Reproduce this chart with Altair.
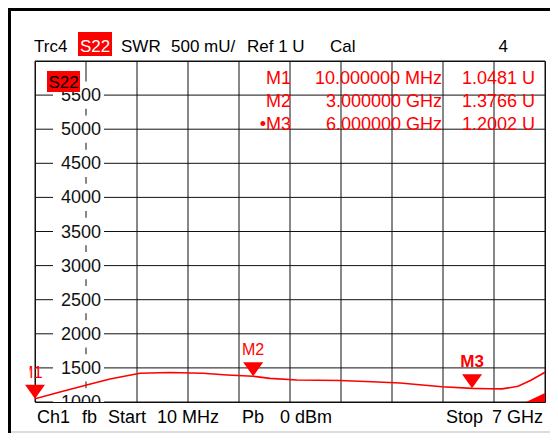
import altair as alt
import pandas as pd

# ---------------- data ----------------
freq_mhz = [10, 353, 718, 1038, 1449, 1860, 2313, 2642, 3000, 3231, 3600,
            4190, 4629, 5013, 5588, 6000, 6232, 6411, 6630, 6808, 7000]
swr_mu = [1048, 1147, 1249, 1337, 1421, 1432, 1421, 1396, 1377, 1347, 1322,
          1315, 1298, 1279, 1224, 1200, 1195, 1192, 1230, 1318, 1436]

marker_names = ["M1", "M2", "M3"]
marker_freq_mhz = [10, 3000, 6000]
marker_swr_mu = [1048.1, 1376.6, 1200.2]

readout_names = ["M1", "M2", "\u2022M3"]
readout_freqs = ["10.000000 MHz", "3.000000 GHz", "6.000000 GHz"]
readout_values = ["1.0481 U", "1.3766 U", "1.2002 U"]

y_tick_values = [1000, 1500, 2000, 2500, 3000, 3500, 4000, 4500, 5000, 5500]
y_tick_labels = ["1000", "1500", "2000", "2500", "3000", "3500", "4000", "4500", "5000", "5500"]
y_grid = [1000, 1500, 2000, 2500, 3000, 3500, 4000, 4500, 5000, 5500, 6000]
x_grid_mhz = [10, 709, 1408, 2107, 2806, 3505, 4204, 4903, 5602, 6301, 7000]

header_texts = ["Trc4", "S22", "SWR", "500 mU/", "Ref 1 U", "Cal", "4"]
footer_texts = ["Ch1", "fb", "Start", "10 MHz", "Pb", "0 dBm", "Stop", "7 GHz"]
badge_text = "S22"

# ---------------- styling / layout ----------------
FONT = "Liberation Sans"
RED = "#ff0000"
GRID = "#111111"
W, H = 510, 341

xs = alt.Scale(domain=[10, 7000], nice=False, zero=False)
ys = alt.Scale(domain=[1000, 6000], nice=False, zero=False)

ONE = alt.Data(values=[{}])


def label(text, x, y, align="left", color="black", weight="normal", size=17):
    return alt.Chart(ONE).mark_text(
        text=text, align=align, baseline="alphabetic", font=FONT,
        fontSize=size, fontWeight=weight, color=color
    ).encode(x=alt.value(x), y=alt.value(y))


def box(x, x2, y, y2, color):
    return alt.Chart(ONE).mark_rect(color=color, opacity=1).encode(
        x=alt.value(x), x2=alt.value(x2), y=alt.value(y), y2=alt.value(y2))


def hrule(x, x2, y, color, width):
    return alt.Chart(ONE).mark_rule(color=color, strokeWidth=width).encode(
        x=alt.value(x), x2=alt.value(x2), y=alt.value(y))


def vrule(x, y, y2, color, width):
    return alt.Chart(ONE).mark_rule(color=color, strokeWidth=width).encode(
        x=alt.value(x), y=alt.value(y), y2=alt.value(y2))


trace = pd.DataFrame({"f": freq_mhz, "s": swr_mu})
mk = pd.DataFrame({"name": marker_names, "f": marker_freq_mhz, "s": marker_swr_mu})
ylab = pd.DataFrame({"v": y_tick_values, "t": y_tick_labels})
corner = pd.DataFrame({"f": [7000], "s": [1000]})

vgrid = alt.Chart(pd.DataFrame({"g": x_grid_mhz})).mark_rule(
    color=GRID, strokeWidth=1).encode(x=alt.X("g:Q", scale=xs, axis=None))
hgrid = alt.Chart(pd.DataFrame({"g": y_grid})).mark_rule(
    color=GRID, strokeWidth=1).encode(y=alt.Y("g:Q", scale=ys, axis=None))

label_boxes = alt.Chart(ylab).transform_calculate(
    lo="datum.v - 200", hi="datum.v + 200"
).mark_rect(color="white", opacity=1, clip=True).encode(
    x=alt.value(18), x2=alt.value(69),
    y=alt.Y("lo:Q", scale=ys, axis=None), y2="hi:Q",
)

y_labels = alt.Chart(ylab).mark_text(
    align="right", baseline="middle", font=FONT, fontSize=18, color="#111",
    clip=True, dy=1
).encode(x=alt.value(66), y=alt.Y("v:Q", scale=ys, axis=None), text="t:N")

line = alt.Chart(trace).mark_line(color=RED, strokeWidth=1.6, clip=True).encode(
    x=alt.X("f:Q", scale=xs, axis=None),
    y=alt.Y("s:Q", scale=ys, axis=None),
)

tri = alt.Chart(mk).mark_point(
    shape="M -1 -1.4 L 1 -1.4 L 0 0 Z", size=400, filled=True, color=RED,
    opacity=1, strokeWidth=0
).encode(x=alt.X("f:Q", scale=xs, axis=None), y=alt.Y("s:Q", scale=ys, axis=None))


def mk_label(name, weight, size, dx):
    return alt.Chart(mk).transform_filter(f"datum.name == '{name}'").mark_text(
        align="center", baseline="alphabetic", font=FONT, fontSize=size,
        fontWeight=weight, color=RED, dy=-21, dx=dx
    ).encode(x=alt.X("f:Q", scale=xs, axis=None),
             y=alt.Y("s:Q", scale=ys, axis=None), text="name:N")


corner_tri = alt.Chart(corner).mark_point(
    shape="M -1 0 L 0 0 L 0 -0.47 Z", size=1444, filled=True, color=RED,
    opacity=1, strokeWidth=0
).encode(x=alt.X("f:Q", scale=xs, axis=None), y=alt.Y("s:Q", scale=ys, axis=None))

layers = [vgrid, hgrid, label_boxes, y_labels, line, tri,
          mk_label("M1", "normal", 17, -4), mk_label("M2", "normal", 16, 0),
          mk_label("M3", "bold", 17, 0), corner_tri,
          box(-23, -5.5, 298, 323, "white")]

# in-plot trace badge
layers += [box(12, 45, 10, 31, RED), label(badge_text, 28.5, 27, "center", "black")]

# header line
hx = [-1, 60, 86, 136, 212, 295, 473]
halign = ["left", "center", "left", "left", "left", "left", "right"]
layers.append(box(43, 77, -29, -5, RED))
for t, x, a in zip(header_texts, hx, halign):
    layers.append(label(t, x, -9, a, "white" if t == "S22" else "black"))

# marker readout table
for i, (n, f, v) in enumerate(zip(readout_names, readout_freqs, readout_values)):
    yy = 23 + 23 * i
    layers.append(label(n, 256, yy, "right", RED, size=18))
    layers.append(label(f, 407, yy, "right", RED, size=18))
    layers.append(label(v, 500, yy, "right", RED, size=18))

# footer line
fx = [2, 47, 73, 122, 207, 245, 411, 508]
falign = ["left"] * 7 + ["right"]
for t, x, a in zip(footer_texts, fx, falign):
    layers.append(label(t, x, 362, a, "black", size=18))

# outer frame of the instrument screen
layers += [hrule(-27, 515, -51.5, "black", 3),
           vrule(-25.5, -53, 372, "black", 3),
           hrule(-24, 515, 371, "#bbbbbb", 1)]

chart = alt.layer(*layers).properties(
    width=W, height=H,
    padding={"left": 27, "top": 53, "right": 5, "bottom": 31},
    autosize=alt.AutoSizeParams(type="none"),
    background="white",
).configure_view(stroke=GRID, strokeWidth=1)

chart.save("out.html", embed_options={"renderer": "svg", "actions": False})
